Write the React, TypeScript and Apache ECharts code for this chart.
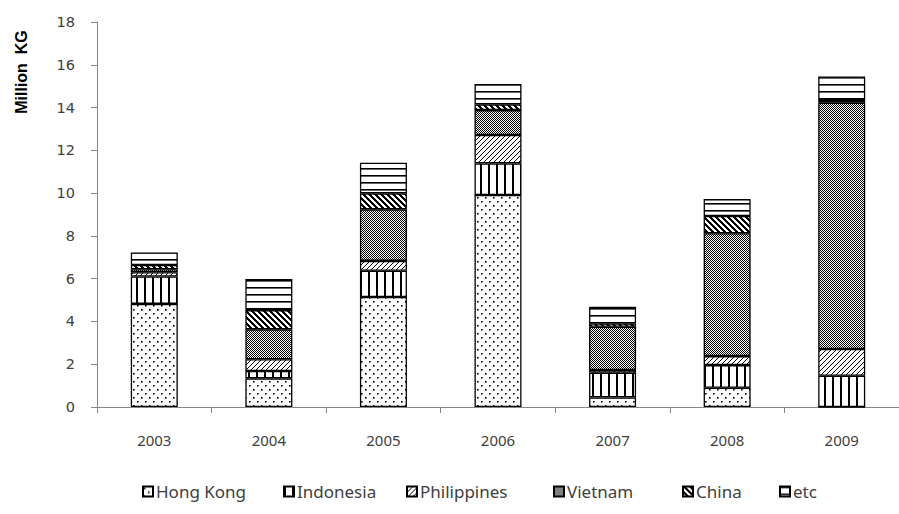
import React, { useEffect, useRef } from "react";
import * as echarts from "echarts";

const years = ["2003", "2004", "2005", "2006", "2007", "2008", "2009"];
const seriesNames = ["Hong Kong", "Indonesia", "Philippines", "Vietnam", "China", "etc"];
const hongKong = [4.82, 1.34, 5.14, 9.91, 0.45, 0.9, 0];
const indonesia = [1.28, 0.34, 1.23, 1.48, 1.15, 1.06, 1.46];
const philippines = [0.2, 0.55, 0.46, 1.33, 0.13, 0.42, 1.25];
const vietnam = [0.14, 1.4, 2.41, 1.16, 2.02, 5.74, 11.52];
const china = [0.2, 0.9, 0.75, 0.27, 0.16, 0.81, 0.12];
const etc = [0.58, 1.45, 1.43, 0.95, 0.78, 0.79, 1.1];
const yTicks = { min: 0, max: 18, interval: 2 };
const legendLefts = [142, 283, 406, 553, 682, 779];

function makePattern(w: number, h: number, draw: (ctx: CanvasRenderingContext2D) => void) {
  const c = document.createElement("canvas");
  c.width = w;
  c.height = h;
  const ctx = c.getContext("2d") as CanvasRenderingContext2D;
  ctx.fillStyle = "#ffffff";
  ctx.fillRect(0, 0, w, h);
  ctx.fillStyle = "#000000";
  draw(ctx);
  return { image: c, repeat: "repeat", imageWidth: w, imageHeight: h };
}

export default function App() {
  const ref = useRef<HTMLDivElement>(null);
  useEffect(() => {
    document.body.style.margin = "0";
    if (!ref.current) return;
    const chart = echarts.init(ref.current, null, { renderer: "svg" });

    const patHK = makePattern(8, 8, (ctx) => {
      ctx.fillRect(1, 1, 1.6, 1.6);
      ctx.fillRect(5, 5, 1.6, 1.6);
    });
    const patInd = makePattern(8, 8, (ctx) => {
      ctx.fillRect(0, 0, 2, 8);
    });
    const patPhil = makePattern(5, 5, (ctx) => {
      for (let x = 0; x < 5; x++) for (let y = 0; y < 5; y++) if ((x + y) % 5 === 0) ctx.fillRect(x, y, 1, 1);
    });
    const patViet = makePattern(2, 2, (ctx) => {
      ctx.fillRect(0, 0, 1, 1);
      ctx.fillRect(1, 1, 1, 1);
    });
    const patChina = makePattern(6, 6, (ctx) => {
      for (let x = 0; x < 6; x++) for (let y = 0; y < 6; y++) if (((x - y) % 6 + 6) % 6 < 3) ctx.fillRect(x, y, 1, 1);
    });
    const patEtc = makePattern(8, 7, (ctx) => {
      ctx.fillRect(0, 0, 8, 1.6);
    });
    const patterns = [patHK, patInd, patPhil, patViet, patChina, patEtc];
    const values = [hongKong, indonesia, philippines, vietnam, china, etc];

    const textColor = "#404040";
    const axisColor = "#868686";

    chart.setOption({
      animation: false,
      grid: { left: 97, top: 22, width: 808, height: 385 },
      xAxis: {
        type: "category",
        data: years,
        axisLine: { lineStyle: { color: axisColor, width: 1 } },
        axisTick: { show: true, length: 6, lineStyle: { color: axisColor } },
        axisLabel: { color: textColor, fontFamily: "Noto Sans", fontSize: 15, margin: 25 },
      },
      yAxis: {
        type: "value",
        min: yTicks.min,
        max: yTicks.max,
        interval: yTicks.interval,
        axisLine: { show: true, lineStyle: { color: axisColor, width: 1 } },
        axisTick: { show: true, length: 6, lineStyle: { color: axisColor } },
        splitLine: { show: false },
        axisLabel: { color: textColor, fontFamily: "DejaVu Sans", fontSize: 14.5, margin: 22 },
      },
      legend: seriesNames.map((n, i) => ({
        data: [n],
        left: legendLefts[i],
        top: 483,
        padding: 0,
        itemWidth: 10,
        itemHeight: 10,
        icon: "rect",
        textStyle: { color: textColor, fontFamily: "Noto Sans", fontSize: 17, padding: [0, 0, 0, -2] },
      })),
      graphic: [
        {
          type: "text",
          x: 21,
          y: 72,
          rotation: Math.PI / 2,
          style: {
            text: "Million  KG",
            fontFamily: "Liberation Sans",
            fontWeight: "bold",
            fontSize: 16,
            fill: "#000",
            textAlign: "center",
            textVerticalAlign: "middle",
          },
        },
      ],
      series: seriesNames.map((n, i) => ({
        name: n,
        type: "bar",
        stack: "total",
        barWidth: 47,
        data: values[i],
        itemStyle: { color: patterns[i], borderColor: "#000", borderWidth: 1.3 },
        emphasis: { disabled: true },
      })),
    });
    return () => chart.dispose();
  }, []);
  return <div ref={ref} style={{ width: 899, height: 514 }} />;
}
